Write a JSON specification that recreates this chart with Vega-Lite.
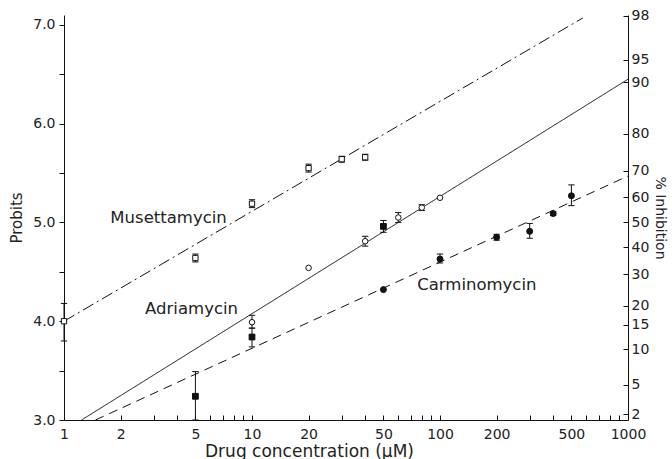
{
  "$schema": "https://vega.github.io/schema/vega-lite/v6.json",
  "width": 564,
  "height": 405,
  "autosize": "none",
  "padding": {"left": 64, "top": 15, "right": 44, "bottom": 39},
  "background": "white",
  "config": {
    "view": {"stroke": null},
    "axis": {
      "grid": false,
      "domainColor": "#111",
      "tickColor": "#111",
      "labelColor": "#222",
      "titleColor": "#222",
      "labelFont": "DejaVu Sans",
      "titleFont": "DejaVu Sans",
      "titleFontWeight": "normal",
      "labelFontSize": 14,
      "titleFontSize": 15
    }
  },
  "datasets": {
    "lines": [
      {"series": "Musettamycin", "x": 1, "y": 4.0},
      {"series": "Musettamycin", "x": 575, "y": 7.07},
      {"series": "Adriamycin", "x": 1.24, "y": 3.0},
      {"series": "Adriamycin", "x": 1000, "y": 6.45},
      {"series": "Carminomycin", "x": 1.47, "y": 3.0},
      {"series": "Carminomycin", "x": 1000, "y": 5.47}
    ],
    "points": [
      {"series": "Musettamycin", "marker": "open square", "x": 1, "y": 4.0, "lo": 3.8, "hi": 4.18},
      {"series": "Musettamycin", "marker": "open square", "x": 5, "y": 4.64, "lo": 4.6, "hi": 4.68},
      {"series": "Musettamycin", "marker": "open square", "x": 10, "y": 5.19, "lo": 5.15, "hi": 5.23},
      {"series": "Musettamycin", "marker": "open square", "x": 20, "y": 5.55, "lo": 5.51, "hi": 5.59},
      {"series": "Musettamycin", "marker": "open square", "x": 30, "y": 5.64, "lo": 5.61, "hi": 5.67},
      {"series": "Musettamycin", "marker": "open square", "x": 40, "y": 5.66, "lo": 5.63, "hi": 5.69},
      {"series": "Adriamycin", "marker": "open circle", "x": 10, "y": 3.99, "lo": 3.93, "hi": 4.06},
      {"series": "Adriamycin", "marker": "open circle", "x": 20, "y": 4.54, "lo": null, "hi": null},
      {"series": "Adriamycin", "marker": "open circle", "x": 40, "y": 4.81, "lo": 4.76, "hi": 4.86},
      {"series": "Adriamycin", "marker": "open circle", "x": 60, "y": 5.05, "lo": 5.0, "hi": 5.1},
      {"series": "Adriamycin", "marker": "open circle", "x": 80, "y": 5.15, "lo": 5.12, "hi": 5.18},
      {"series": "Adriamycin", "marker": "open circle", "x": 100, "y": 5.25, "lo": null, "hi": null},
      {"series": "Other", "marker": "filled square", "x": 5, "y": 3.24, "lo": 3.0, "hi": 3.49},
      {"series": "Other", "marker": "filled square", "x": 10, "y": 3.84, "lo": 3.74, "hi": 3.93},
      {"series": "Other", "marker": "filled square", "x": 50, "y": 4.96, "lo": 4.9, "hi": 5.02},
      {"series": "Carminomycin", "marker": "filled circle", "x": 50, "y": 4.32, "lo": null, "hi": null},
      {"series": "Carminomycin", "marker": "filled circle", "x": 100, "y": 4.63, "lo": 4.59, "hi": 4.68},
      {"series": "Carminomycin", "marker": "filled circle", "x": 200, "y": 4.85, "lo": 4.82, "hi": 4.88},
      {"series": "Carminomycin", "marker": "filled circle", "x": 300, "y": 4.91, "lo": 4.84, "hi": 4.99},
      {"series": "Carminomycin", "marker": "filled circle", "x": 400, "y": 5.09, "lo": 5.07, "hi": 5.11},
      {"series": "Carminomycin", "marker": "filled circle", "x": 500, "y": 5.27, "lo": 5.17, "hi": 5.38}
    ],
    "labels": [
      {"label": "Musettamycin", "x": 3.6, "y": 5.05},
      {"label": "Adriamycin", "x": 4.77, "y": 4.12},
      {"label": "Carminomycin", "x": 157, "y": 4.37}
    ]
  },
  "encoding": {
    "x": {
      "field": "x",
      "type": "quantitative",
      "scale": {"type": "log", "domain": [1, 1000], "nice": false},
      "axis": {
        "orient": "bottom",
        "title": "Drug concentration (μM)",
        "values": [1, 2, 3, 4, 5, 6, 7, 8, 9, 10, 20, 30, 40, 50, 60, 70, 80, 90, 100, 200, 300, 400, 500, 600, 700, 800, 900, 1000],
        "labelExpr": "(datum.value == 1 || datum.value == 2 || datum.value == 5 || datum.value == 10 || datum.value == 20 || datum.value == 50 || datum.value == 100 || datum.value == 200 || datum.value == 500 || datum.value == 1000) ? toString(datum.value) : ''",
        "tickSize": -5,
        "labelPadding": 12,
        "labelFlush": false,
        "labelOverlap": false,
        "titlePadding": 2,
        "titleFontSize": 17,
        "titleX": 245,
        "titleAlign": "center"
      }
    }
  },
  "layer": [
    {
      "data": {"name": "lines"},
      "mark": {"type": "line", "color": "#111", "strokeWidth": 1},
      "encoding": {
        "y": {
          "field": "y",
          "type": "quantitative",
          "scale": {"domain": [3, 7.1], "nice": false, "zero": false},
          "axis": {
            "orient": "left",
            "title": "Probits",
            "values": [3, 3.5, 4, 4.5, 5, 5.5, 6, 6.5, 7],
            "labelExpr": "datum.value % 1 == 0 ? format(datum.value, '.1f') : ''",
            "tickSize": 5,
            "labelPadding": 4,
            "titlePadding": 8
          }
        },
        "detail": {"field": "series"},
        "strokeDash": {
          "field": "series",
          "type": "nominal",
          "scale": {"domain": ["Musettamycin", "Adriamycin", "Carminomycin"], "range": [[12, 4, 2, 4], [1, 0], [9, 6]]},
          "legend": null
        }
      }
    },
    {
      "data": {"name": "points"},
      "transform": [{"filter": "datum.lo != null"}],
      "mark": {"type": "rule", "color": "#111", "strokeWidth": 1},
      "encoding": {
        "y": {"field": "lo", "type": "quantitative", "scale": {"domain": [3, 7.1], "nice": false, "zero": false}, "axis": null},
        "y2": {"field": "hi"}
      }
    },
    {
      "data": {"name": "points"},
      "transform": [{"filter": "datum.lo != null"}],
      "mark": {"type": "point", "shape": "M-1,0L1,0", "size": 40, "stroke": "#111", "strokeWidth": 1, "filled": false, "opacity": 1},
      "encoding": {
        "y": {"field": "lo", "type": "quantitative", "scale": {"domain": [3, 7.1], "nice": false, "zero": false}, "axis": null}
      }
    },
    {
      "data": {"name": "points"},
      "transform": [{"filter": "datum.lo != null"}],
      "mark": {"type": "point", "shape": "M-1,0L1,0", "size": 40, "stroke": "#111", "strokeWidth": 1, "filled": false, "opacity": 1},
      "encoding": {
        "y": {"field": "hi", "type": "quantitative", "scale": {"domain": [3, 7.1], "nice": false, "zero": false}, "axis": null}
      }
    },
    {
      "data": {"name": "points"},
      "mark": {"type": "point", "filled": true, "stroke": "#111", "strokeWidth": 1, "opacity": 1},
      "encoding": {
        "y": {
          "field": "y",
          "type": "quantitative",
          "scale": {"domain": [3, 7.1], "nice": false, "zero": false},
          "axis": {
            "orient": "right",
            "title": "% Inhibition",
            "values": [3.06, 3.355, 3.718, 3.964, 4.158, 4.476, 4.747, 5.0, 5.253, 5.524, 5.9, 6.42, 6.645, 7.09],
            "labelExpr": "datum.value < 3.1 ? '2' : datum.value < 3.5 ? '5' : datum.value < 3.8 ? '10' : datum.value < 4.0 ? '15' : datum.value < 4.3 ? '20' : datum.value < 4.6 ? '30' : datum.value < 4.9 ? '40' : datum.value < 5.1 ? '50' : datum.value < 5.4 ? '60' : datum.value < 5.7 ? '70' : datum.value < 6.0 ? '80' : datum.value < 6.5 ? '90' : datum.value < 6.9 ? '95' : '98'",
            "tickSize": -5,
            "labelPadding": 8,
            "labelFlush": false,
            "labelOverlap": false,
            "titlePadding": 4,
            "titleFontSize": 14
          }
        },
        "shape": {
          "field": "marker",
          "type": "nominal",
          "scale": {"domain": ["open square", "open circle", "filled square", "filled circle"], "range": ["square", "circle", "square", "circle"]},
          "legend": null
        },
        "fill": {
          "field": "marker",
          "type": "nominal",
          "scale": {"domain": ["open square", "open circle", "filled square", "filled circle"], "range": ["white", "white", "#111", "#111"]},
          "legend": null
        },
        "size": {
          "field": "marker",
          "type": "nominal",
          "scale": {"domain": ["open square", "open circle", "filled square", "filled circle"], "range": [28, 36, 36, 40]},
          "legend": null
        }
      }
    },
    {
      "data": {"name": "labels"},
      "mark": {"type": "text", "font": "DejaVu Sans", "fontSize": 16.5, "color": "#222", "align": "center", "baseline": "middle"},
      "encoding": {
        "y": {"field": "y", "type": "quantitative", "scale": {"domain": [3, 7.1], "nice": false, "zero": false}, "axis": null},
        "text": {"field": "label"}
      }
    }
  ],
  "resolve": {"axis": {"y": "independent"}}
}
